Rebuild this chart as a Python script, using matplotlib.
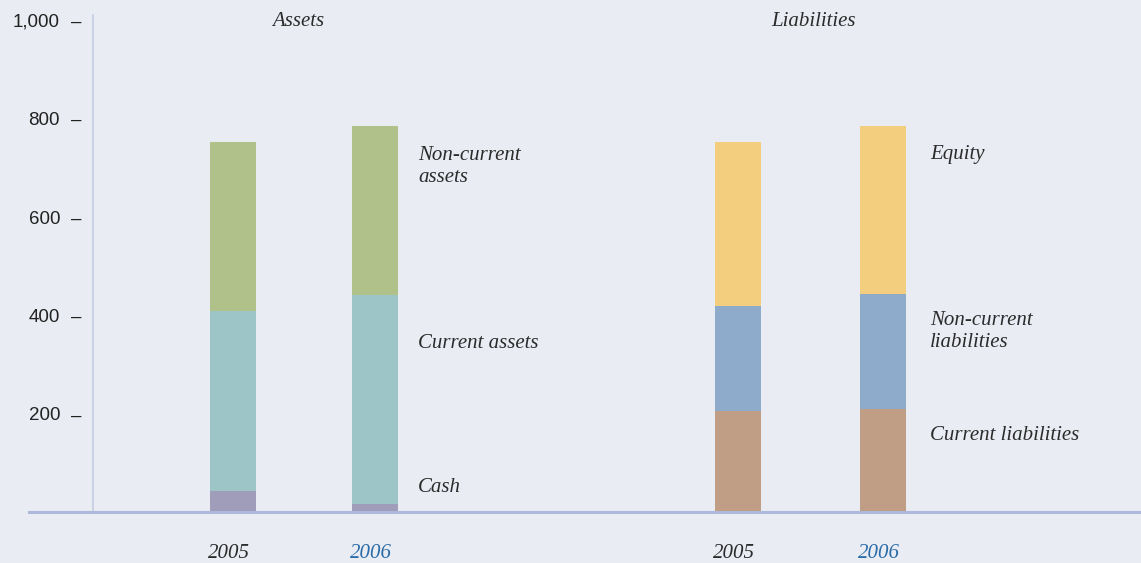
import matplotlib.pyplot as plt

# values (millions)
years = ['2005', '2006']
cash = [43, 17]
current_assets = [366, 424]       # on top of cash
non_current_assets = [342, 344]   # on top of current assets
current_liab = [205, 209]
non_current_liab = [214, 233]
equity = [332, 343]

ticks = [200, 400, 600, 800, 1000]

bg = '#E9ECF3'
col_cash = '#A09DBB'
col_cur = '#9DC4C6'
col_noncur = '#B0C18A'
col_cl = '#C09E85'
col_ncl = '#8EABCB'
col_eq = '#F3CE7E'
year_colors = ['#2b2b2b', '#2A6BA8']

fig = plt.figure(figsize=(11.41, 5.63), dpi=100)
fig.patch.set_facecolor(bg)
ax = fig.add_axes([29 / 1141, 51 / 563, 1 - 29 / 1141, 512 / 563])
ax.set_facecolor(bg)

w = 0.324
xa = [0, 1]
xl = [3.556, 4.577]

# assets
ax.bar(xa, cash, w, color=col_cash)
ax.bar(xa, current_assets, w, bottom=cash, color=col_cur)
bot = [a + b for a, b in zip(cash, current_assets)]
ax.bar(xa, non_current_assets, w, bottom=bot, color=col_noncur)

# liabilities
ax.bar(xl, current_liab, w, color=col_cl)
ax.bar(xl, non_current_liab, w, bottom=current_liab, color=col_ncl)
bot = [a + b for a, b in zip(current_liab, non_current_liab)]
ax.bar(xl, equity, w, bottom=bot, color=col_eq)

ax.set_xlim(-1.437, 6.394)
ax.set_ylim(0, 1040)

for s in ['top', 'right', 'left']:
    ax.spines[s].set_visible(False)
ax.spines['bottom'].set_color('#AEB9DA')
ax.spines['bottom'].set_linewidth(2.2)
ax.set_xticks([])
ax.set_yticks([])

# vertical axis line
ax.plot([-0.986, -0.986], [0, 1010], color='#C3CCE3', lw=1.2, clip_on=False)

sans = 'Liberation Sans'
for t in ticks:
    ax.text(-1.218, t - 5, f'{t:,}', ha='right', va='center',
            fontsize=13.5, family=sans, color='#222222')
    ax.text(-1.106, t - 5, '\u2013', ha='center', va='center',
            fontsize=13.5, family=sans, color='#222222')

ital = dict(family='Liberation Serif', style='italic', fontsize=15, color='#2b2b2b')
ax.text(0.458, 997, 'Assets', ha='center', va='center', **ital)
ax.text(4.09, 997, 'Liabilities', ha='center', va='center', **ital)

ax.text(1.303, 701, 'Non-current\nassets', ha='left', va='center', linespacing=1.2, **ital)
ax.text(1.303, 342, 'Current assets', ha='left', va='center', **ital)
ax.text(1.303, 50, 'Cash', ha='left', va='center', **ital)
ax.text(4.908, 726, 'Equity', ha='left', va='center', **ital)
ax.text(4.908, 366, 'Non-current\nliabilities', ha='left', va='center', linespacing=1.2, **ital)
ax.text(4.908, 155, 'Current liabilities', ha='left', va='center', **ital)

for grp in (xa, xl):
    for x, y, c in zip(grp, years, year_colors):
        ax.text(x - 0.03, -84, y, ha='center', va='center', clip_on=False,
                family='Liberation Serif', style='italic', fontsize=15, color=c)

fig.savefig('out.png', dpi=100, facecolor=bg)
